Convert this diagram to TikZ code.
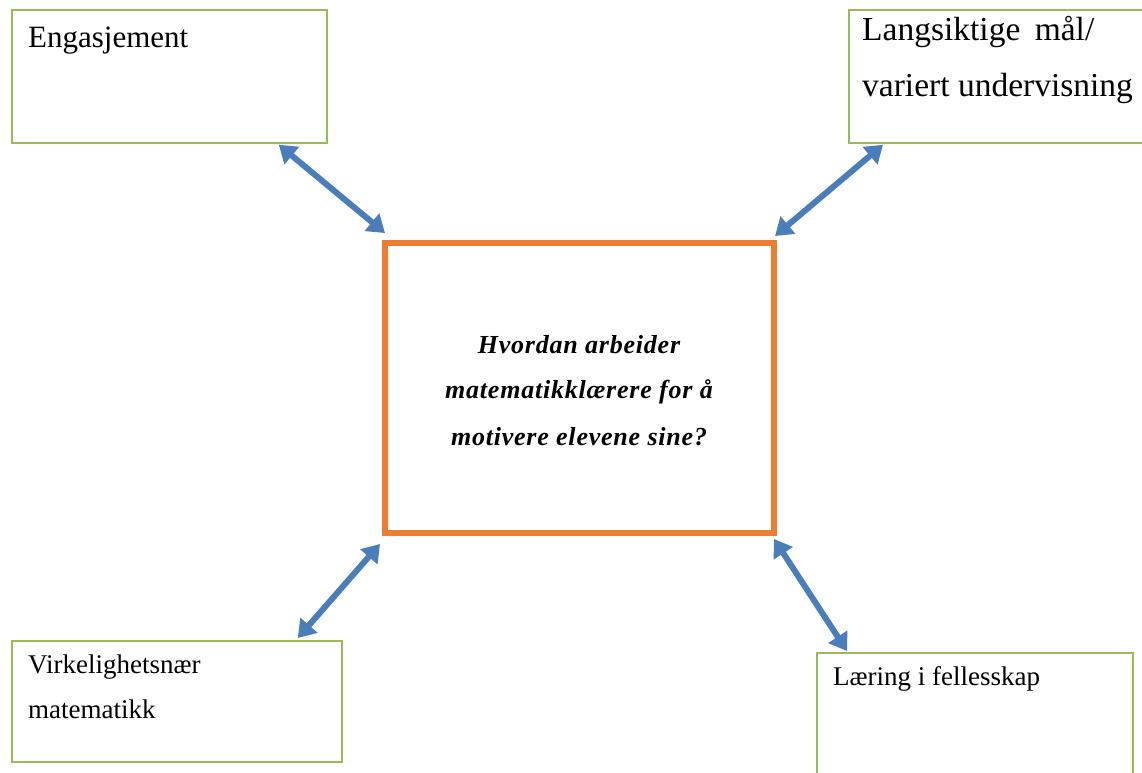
\documentclass[tikz,border=0pt]{standalone}
\usepackage{fontspec}
\setmainfont{Liberation Serif}
\usetikzlibrary{arrows.meta}
\definecolor{boxgreen}{RGB}{155,187,89}
\definecolor{qorange}{RGB}{237,125,49}
\definecolor{arrblue}{RGB}{74,126,187}
\tikzset{
  greenbox/.style={draw=boxgreen, line width=1.8pt, fill=white, inner sep=0pt},
  centerbox/.style={draw=qorange, line width=6pt, inner sep=0pt},
  lbl/.style={anchor=base west, inner sep=0pt, font=\fontsize{31}{36}\selectfont},
  lblsmall/.style={anchor=base west, inner sep=0pt, font=\fontsize{27}{32}\selectfont},
  qtext/.style={anchor=base, inner sep=0pt, font=\fontsize{26}{30}\selectfont\bfseries\itshape\addfontfeatures{LetterSpace=3}},
  dblarrow/.style={draw=arrblue, line width=6pt, {Triangle[length=17pt,width=22pt]}-{Triangle[length=17pt,width=22pt]}}
}
\begin{document}
\begin{tikzpicture}[x=1pt,y=-1pt]
\useasboundingbox (0,0) rectangle (1142,772);
\clip (0,0) rectangle (1142,772);
\fill[white] (0,0) rectangle (1142,772);
% boxes
\node[greenbox, anchor=north west, minimum width=315pt, minimum height=133pt] (eng) at (11,9) {};
\node[greenbox, anchor=north west, minimum width=310pt, minimum height=133pt] (lang) at (848,9) {};
\node[greenbox, anchor=north west, minimum width=330pt, minimum height=121pt] (virk) at (11,640) {};
\node[greenbox, anchor=north west, minimum width=316pt, minimum height=140pt] (laer) at (816,652) {};
\node[centerbox, anchor=north west, minimum width=389pt, minimum height=290pt] (q) at (382,240) {};
% labels
\node[lbl] (t1) at (28,47) {Engasjement};
\node[lbl, font=\fontsize{33.5}{38}\selectfont] (t2a) at (862,40) {Langsiktige\hspace{6pt} mål/};
\node[lbl, font=\fontsize{33.5}{38}\selectfont] (t2b) at (862,96) {variert undervisning};
\node[lblsmall] (t3a) at (28,673) {Virkelighetsnær};
\node[lblsmall] (t3b) at (28,718) {matematikk};
\node[lblsmall] (t4) at (833,685) {Læring i fellesskap};
\node[qtext] (q1) at (579,353) {Hvordan arbeider};
\node[qtext] (q2) at (579,398) {matematikklærere for å};
\node[qtext] (q3) at (579,445) {motivere elevene sine?};
% arrows
\draw[dblarrow] ([xshift=-49pt,yshift=-1pt]eng.south east) -- ([xshift=3pt,yshift=7pt]q.north west);
\draw[dblarrow] ([xshift=35pt,yshift=-1pt]lang.south west) -- ([xshift=-2pt,yshift=4pt]q.north east);
\draw[dblarrow] ([xshift=-2pt,yshift=-8pt]q.south west) -- ([xshift=-45pt,yshift=2pt]virk.north east);
\draw[dblarrow] ([xshift=-3pt,yshift=-3pt]q.south east) -- ([xshift=31pt,yshift=1pt]laer.north west);
\end{tikzpicture}
\end{document}
